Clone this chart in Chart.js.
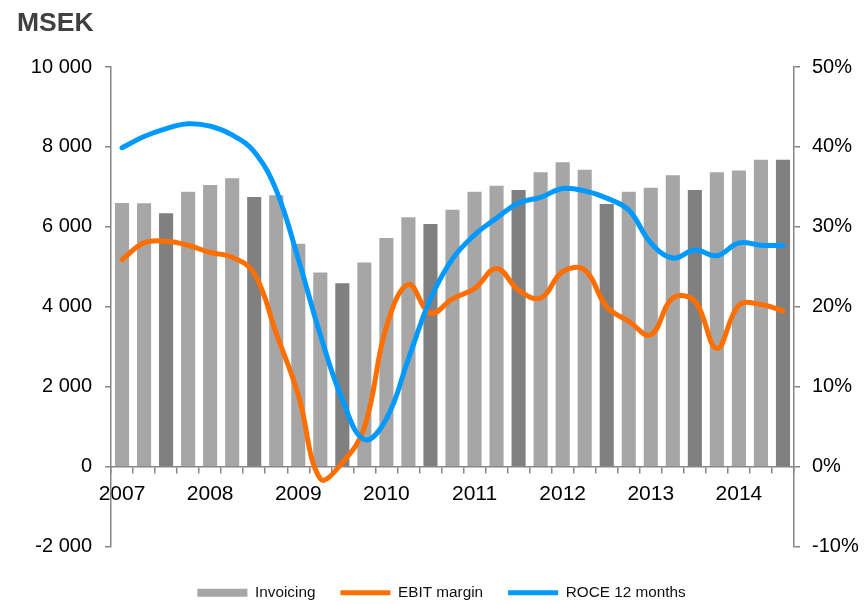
<!DOCTYPE html>
<html>
<head>
<meta charset="utf-8">
<script src="https://cdn.jsdelivr.net/npm/chart.js@4/dist/chart.umd.min.js"></script>
<style>
  html, body { margin: 0; padding: 0; background: #fff; }
  #wrap { position: relative; width: 866px; height: 604px; }
</style>
</head>
<body>
<div id="wrap"><canvas id="c" width="866" height="604"></canvas></div>
<script>
const categories = [
  '2007 Q1','2007 Q2','2007 Q3','2007 Q4',
  '2008 Q1','2008 Q2','2008 Q3','2008 Q4',
  '2009 Q1','2009 Q2','2009 Q3','2009 Q4',
  '2010 Q1','2010 Q2','2010 Q3','2010 Q4',
  '2011 Q1','2011 Q2','2011 Q3','2011 Q4',
  '2012 Q1','2012 Q2','2012 Q3','2012 Q4',
  '2013 Q1','2013 Q2','2013 Q3','2013 Q4',
  '2014 Q1','2014 Q2','2014 Q3'
];
const yearLabels = ['2007','2008','2009','2010','2011','2012','2013','2014'];
const invoicing = [6600, 6590, 6340, 6880, 7050, 7220, 6750, 6790, 5580, 4860, 4590, 5110,
  5720, 6240, 6070, 6430, 6880, 7030, 6920, 7370, 7620, 7430, 6570, 6880, 6980, 7290, 6920,
  7370, 7410, 7680, 7680];
const ebitMargin = [25.9, 28.0, 28.2, 27.7, 26.8, 26.2, 24.2, 16.7, 9.0, -1.5, 0.5, 4.9,
  17.5, 22.8, 19.2, 21.0, 22.3, 24.8, 22.1, 21.1, 24.4, 24.6, 20.0, 18.2, 16.5, 21.1, 20.7,
  14.8, 20.2, 20.3, 19.5];
const roce12m = [39.9, 41.3, 42.3, 42.9, 42.6, 41.5, 39.4, 34.6, 26.0, 16.5, 8.4, 3.4,
  6.0, 13.5, 21.0, 26.0, 29.0, 31.1, 33.0, 33.7, 34.8, 34.5, 33.6, 32.1, 28.0, 26.1, 27.1,
  26.4, 28.0, 27.7, 27.7];
const leftTicks = { min: -2000, max: 10000, step: 2000 };
const rightTicks = { min: -10, max: 50, step: 10 };

const FONT = "'Liberation Sans', Arial, sans-serif";
const AXIS = '#868686';
const barColors = invoicing.map((v, i) => (i % 4 === 2 ? '#808080' : '#A6A6A6'));

function fmtThousands(v) {
  const s = String(Math.abs(v)).replace(/\B(?=(\d{3})+(?!\d))/g, ' ');
  return (v < 0 ? '-' : '') + s;
}

new Chart(document.getElementById('c'), {
  data: {
    labels: categories,
    datasets: [
      {
        type: 'bar', label: 'Invoicing', data: invoicing, yAxisID: 'y',
        backgroundColor: barColors, borderWidth: 0,
        barPercentage: 0.64, categoryPercentage: 1.0,
        pointStyle: 'rect', order: 2
      },
      {
        type: 'line', label: 'EBIT margin', data: ebitMargin, yAxisID: 'y1',
        borderColor: '#FF6F00', backgroundColor: '#FF6F00', borderWidth: 5,
        borderCapStyle: 'round', borderJoinStyle: 'round',
        tension: 0.4, pointRadius: 0, pointHoverRadius: 0, pointStyle: 'line',
        fill: false, order: 1
      },
      {
        type: 'line', label: 'ROCE 12 months', data: roce12m, yAxisID: 'y1',
        borderColor: '#0099FF', backgroundColor: '#0099FF', borderWidth: 5,
        borderCapStyle: 'round', borderJoinStyle: 'round',
        tension: 0.4, pointRadius: 0, pointHoverRadius: 0, pointStyle: 'line',
        fill: false, order: 0
      }
    ]
  },
  options: {
    responsive: false,
    animation: false,
    events: [],
    layout: { padding: { left: 17, right: 0, top: 0, bottom: -6.5 } },
    plugins: {
      tooltip: { enabled: false },
      title: {
        display: true, text: 'MSEK', align: 'start', color: '#404040',
        font: { family: FONT, size: 26.5, weight: 'bold', lineHeight: 1.2 },
        padding: { top: 7.5, bottom: 27.7 }
      },
      legend: {
        display: true, position: 'bottom', align: 'center',
        title: { display: true, text: '', padding: 0, font: { size: 11.25, lineHeight: 1.2 } },
        labels: {
          usePointStyle: true, pointStyleWidth: 50, boxWidth: 50, boxHeight: 8,
          padding: 25, color: '#111',
          font: { family: FONT, size: 15.3 },
          sort: (a, b) => a.datasetIndex - b.datasetIndex
        }
      }
    },
    scales: {
      x: {
        type: 'category',
        position: { y: 0 },
        offset: true,
        grid: { display: true, drawOnChartArea: false, drawTicks: true, tickLength: 6, color: AXIS, lineWidth: 1.5, offset: true },
        border: { display: true, color: AXIS, width: 1.5 },
        ticks: {
          autoSkip: false, maxRotation: 0, minRotation: 0, padding: 9,
          color: '#000', font: { family: FONT, size: 21 },
          callback: function (value, index) {
            return index % 4 === 0 ? yearLabels[index / 4] : '';
          }
        }
      },
      y: {
        type: 'linear', position: 'left',
        min: leftTicks.min, max: leftTicks.max,
        grid: { display: true, drawOnChartArea: false, drawTicks: true, tickLength: 6, color: AXIS, lineWidth: 1.5 },
        border: { display: true, color: AXIS, width: 1.5 },
        ticks: {
          stepSize: leftTicks.step, padding: 13, color: '#000',
          font: { family: FONT, size: 20 },
          callback: v => fmtThousands(v)
        },
        afterFit: s => { s.width = 94; }
      },
      y1: {
        type: 'linear', position: 'right',
        min: rightTicks.min, max: rightTicks.max,
        grid: { display: true, drawOnChartArea: false, drawTicks: true, tickLength: 6, color: AXIS, lineWidth: 1.5 },
        border: { display: true, color: AXIS, width: 1.5 },
        ticks: {
          stepSize: rightTicks.step, padding: 12, color: '#000',
          font: { family: FONT, size: 20 },
          callback: v => v + '%'
        },
        afterFit: s => { s.width = 72; }
      }
    }
  }
});
</script>
</body>
</html>
